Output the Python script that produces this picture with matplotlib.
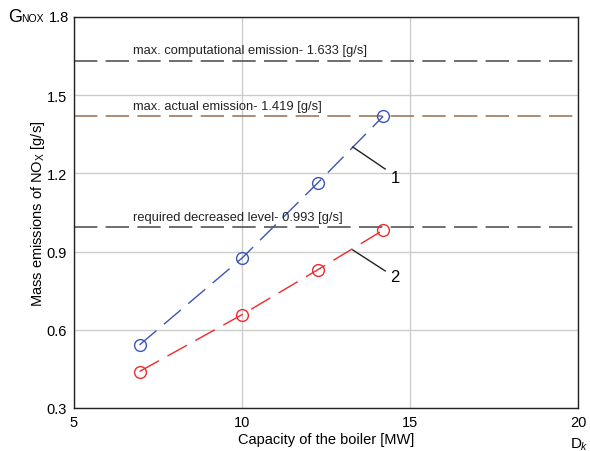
import matplotlib.pyplot as plt

plt.rcParams['font.family'] = ['Liberation Sans', 'DejaVu Sans']

# boiler capacity [MW]
capacity = [6.95, 10.0, 12.25, 14.2]
# mass emissions of NOx [g/s]
emis_1 = [0.542, 0.875, 1.163, 1.419]
emis_2 = [0.440, 0.658, 0.830, 0.982]

levels = [1.633, 1.419, 0.993]
level_labels = ['max. computational emission- 1.633 [g/s]',
                'max. actual emission- 1.419 [g/s]',
                'required decreased level- 0.993 [g/s]']
level_colors = ['#555555', '#a0785a', '#555555']

x_ticks = [5, 10, 15, 20]
y_ticks = [0.3, 0.6, 0.9, 1.2, 1.5, 1.8]

fig = plt.figure(figsize=(5.9, 4.52), dpi=100)
ax = fig.add_axes([74 / 590, 43 / 452, 504 / 590, 391 / 452])

ax.set_xlim(5, 20)
ax.set_ylim(0.3, 1.8)
ax.set_xticks(x_ticks)
ax.set_yticks(y_ticks)
ax.set_yticklabels(['0.3', '0.6', '0.9', '1.2', '1.5', ''])
ax.grid(True, color='#cccccc', linewidth=1)
ax.set_axisbelow(True)
ax.tick_params(length=0, labelsize=10.5, pad=5)
for s in ax.spines.values():
    s.set_color('#222222')
    s.set_linewidth(1)

for lv, lab, c in zip(levels, level_labels, level_colors):
    ax.axhline(lv, color=c, linewidth=1.2, dashes=(14, 5))
    ax.text(6.75, lv + 0.018, lab, fontsize=9.3, color='#222222', va='bottom')

ax.plot(capacity, emis_1, color='#3a55b4', linewidth=1, dashes=(16, 7),
        marker='o', markersize=8.5, markerfacecolor='none', markeredgewidth=1)
ax.plot(capacity, emis_2, color='#ee2a2a', linewidth=1, dashes=(16, 7),
        marker='o', markersize=8.5, markerfacecolor='none', markeredgewidth=1)

# leader lines
ax.plot([13.3, 14.26], [1.301, 1.217], color='#222222', linewidth=1)
ax.text(14.42, 1.186, '1', fontsize=12, va='center')
ax.plot([13.3, 14.26], [0.906, 0.826], color='#222222', linewidth=1)
ax.text(14.42, 0.803, '2', fontsize=12, va='center')

ax.set_xlabel('Capacity of the boiler [MW]', fontsize=10.5, labelpad=2)
ax.set_ylabel('Mass emissions of NO$_\\mathregular{X}$ [g/s]', fontsize=10.5, labelpad=0)

fig.text(8 / 590, 1 - 18 / 452, 'G', fontsize=13, va='center')
fig.text(21 / 590, 1 - 19 / 452, 'NOX', fontsize=7.5, va='center')
fig.text(69 / 590, 1 - 18 / 452, '1.8', fontsize=10.5, va='center', ha='right')
fig.text(571 / 590, 1 - 444 / 452, 'D', fontsize=11, va='center')
fig.text(581 / 590, 1 - 447 / 452, 'k', fontsize=7.5, va='center', style='italic')

fig.savefig('out.png', dpi=100)
